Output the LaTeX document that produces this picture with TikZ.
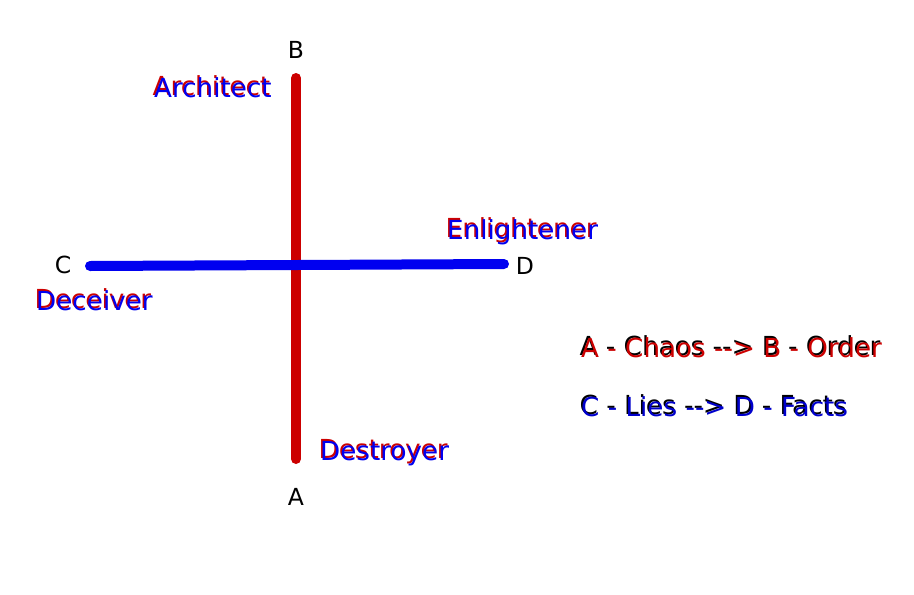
\documentclass[tikz,border=0pt]{standalone}
\usepackage{fontspec}
\setmainfont{DejaVu Sans}[Ligatures=NoCommon]
\definecolor{axred}{HTML}{CC0000}
\definecolor{axblue}{HTML}{0000F0}
\definecolor{lgblue}{HTML}{0000CC}
\begin{document}
\begin{tikzpicture}[x=1pt,y=-1pt,
  axis/.style={line width=10pt,line cap=round},
  endlabel/.style={font=\fontsize{23.5}{28}\selectfont,text=black,inner sep=0pt,anchor=base},
  role/.style={font=\fontsize{26.2}{31}\selectfont,inner sep=0pt,anchor=base west},
]
\useasboundingbox[fill=white] (0,0) rectangle (914,595);
% axes
\coordinate (Aend) at (296,459);
\coordinate (Bend) at (296,78);
\coordinate (Cend) at (90,266);
\coordinate (Dend) at (504,264);
\draw[axis,axred] (Aend) -- (Bend);
\draw[axis,axblue] (Cend) -- (Dend);
% end labels
\node[endlabel] (labA) at (296,505) {A};
\node[endlabel] (labB) at (296,58) {B};
\node[endlabel] (labC) at (63,273) {C};
\node[endlabel] (labD) at (525,274) {D};
% role labels with shadow
\newcommand{\shadowtext}[5]{%
  \node[role,text=#4] (#1s) at ([xshift=-1.5pt,yshift=1.5pt]#2) {#3};
  \node[role,text=#5] (#1) at (#2) {#3};}
\shadowtext{arch}{154,97}{Architect}{axred}{axblue}
\shadowtext{enl}{447,239}{Enlightener}{axred}{axblue}
\shadowtext{dec}{36,310}{Deceiver}{axred}{axblue}
\shadowtext{des}{320,460}{Destroyer}{axred}{axblue}
\shadowtext{leg1}{581,357}{A - Chaos -{}-> B - Order}{black}{axred}
\shadowtext{leg2}{581,416}{C - Lies -{}-> D - Facts}{black}{lgblue}
\end{tikzpicture}
\end{document}
